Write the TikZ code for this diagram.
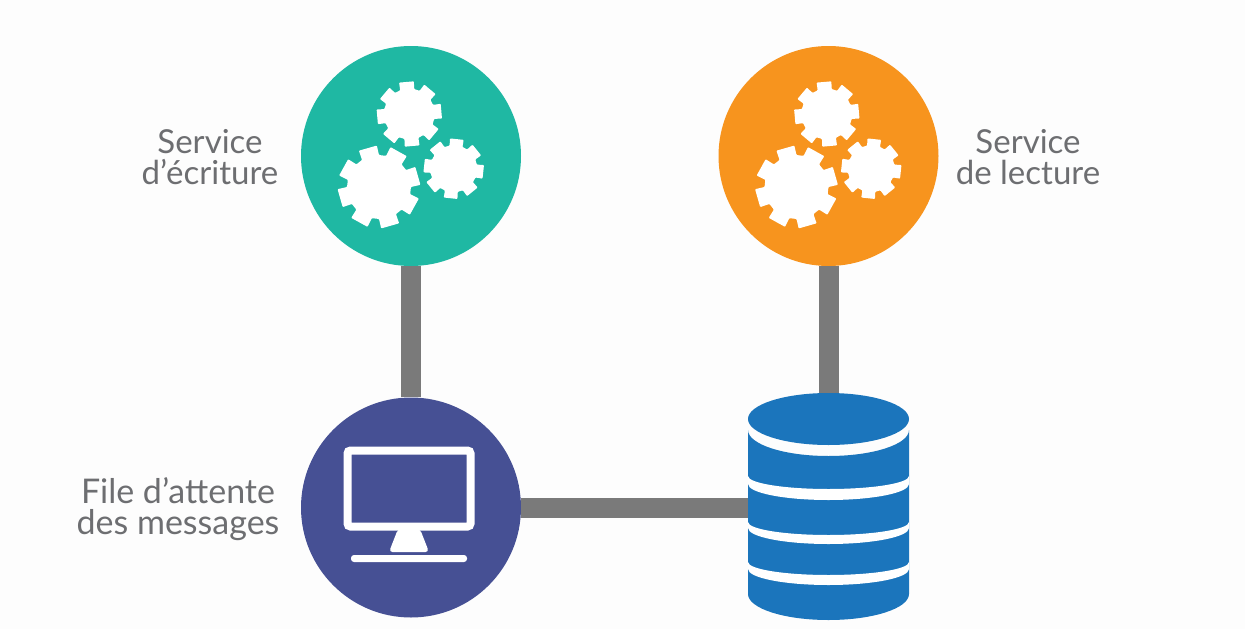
\documentclass[tikz,border=0pt]{standalone}
\usepackage{fontspec}
\setmainfont{Lato}
\definecolor{teal}{HTML}{1FB8A3}
\definecolor{orng}{HTML}{F7941E}
\definecolor{indi}{HTML}{465094}
\definecolor{dbblue}{HTML}{1B75BC}
\definecolor{conn}{HTML}{7A7A7A}
\definecolor{lab}{HTML}{6D6E71}
\definecolor{bg}{HTML}{FDFDFD}
\newcommand{\mygear}[4]{% x,y,R,rot
  \pgfmathsetmacro{\rin}{#3*0.77}
  \fill[white,line join=round,rounded corners=0.8pt,shift={(#1,#2)}] ({#4-16}:\rin pt)
    \foreach \k in {0,...,7}{
      -- ({#4+\k*45-16}:\rin pt) -- ({#4+\k*45-13}:#3 pt) -- ({#4+\k*45+13}:#3 pt) -- ({#4+\k*45+16}:\rin pt)
    } -- cycle;
}
\newcommand{\dbband}[4]{% top centre y, top ry, bottom centre y, bottom ry
  \fill[white] (748,#1) arc[start angle=180,end angle=360,x radius=80.5pt,y radius=#2pt] -- (909,#3)
    arc[start angle=0,end angle=-180,x radius=80.5pt,y radius=#4pt] -- cycle;
}
\tikzset{
  disc/.style={circle,inner sep=0pt,minimum size=220pt},
  connector/.style={conn,line width=20pt},
  label/.style={text=lab,align=center,font=\fontsize{33}{31}\selectfont,inner sep=0pt}
}
\begin{document}
\begin{tikzpicture}[x=1pt,y=-1pt]
\useasboundingbox[fill=bg] (0,0) rectangle (1245,629);
\node[disc,fill=teal] (write) at (411,156) {};
\node[disc,fill=orng] (read) at (828.5,156) {};
\node[disc,fill=indi] (queue) at (411,507.5) {};
\node[inner sep=0pt,minimum width=161pt,minimum height=228pt] (db) at (828.5,507.5) {};
\draw[connector] (write) -- (queue);
\draw[connector] (read) -- ([yshift=-12pt]db.north);
\draw[connector] (queue) -- (db.west);
% gears
\mygear{409.3}{114}{33}{95}
\mygear{379}{187}{41.5}{106}
\mygear{453.7}{168.7}{30.5}{84}
\mygear{826.8}{114}{33}{95}
\mygear{796.5}{187}{41.5}{106}
\mygear{871.2}{168.7}{30.5}{84}
% monitor
\draw[white,line width=8pt,rounded corners=3pt] (347.5,450.5) rectangle (470.5,526.5);
\fill[white,rounded corners=3.5pt] (398,529) -- (420,529) -- (429,552) -- (389,552) -- cycle;
\fill[white,rounded corners=3pt] (351,555) rectangle (467,562);
% database
\fill[dbblue] (748,430) arc[start angle=180,end angle=360,x radius=80.5pt,y radius=26pt] -- (909,594)
  arc[start angle=0,end angle=-180,x radius=80.5pt,y radius=26pt] -- cycle;
\dbband{476}{13}{484}{16}
\dbband{522}{13}{528}{16}
\dbband{562}{13}{569}{16}
\fill[dbblue] (828.5,419) ellipse[x radius=80.5pt,y radius=26pt];
% labels
\node[label] (l1) at (210,157.5) {Service\\d’écriture};
\node[label] (l2) at (1028,157.5) {Service\\de lecture};
\node[label,font=\fontsize{34}{31}\selectfont] (l3) at (178,509.5) {File d’attente\\des messages};
\end{tikzpicture}
\end{document}
